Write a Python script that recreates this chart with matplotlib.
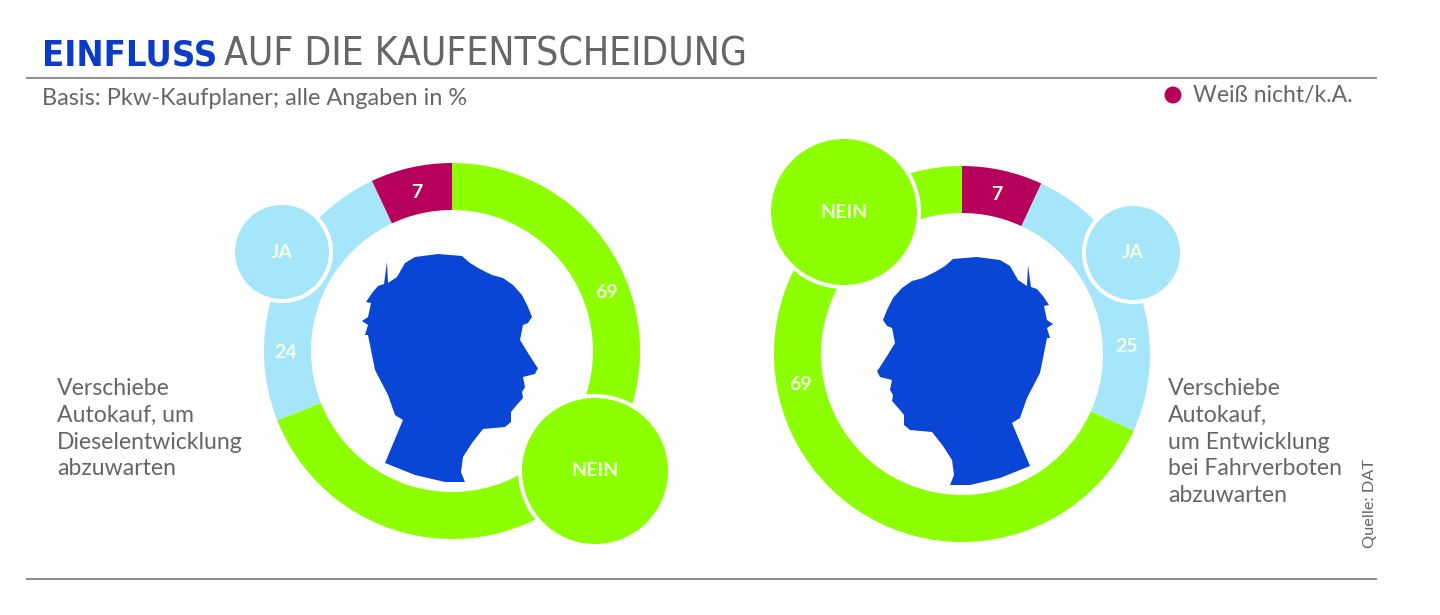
import matplotlib
matplotlib.use("Agg")
import matplotlib.pyplot as plt
from matplotlib.patches import Circle

W, H = 1440, 615

GREEN = "#8CFF00"
LIGHT_BLUE = "#A6E6FA"
MAROON = "#B7005C"
BLUE = "#0A46D6"
GREY = "#666666"

# answers, clockwise from twelve o'clock
left_labels = ["Nein", "Ja", "Weiß nicht/k.A."]
left_values = [69, 24, 7]
right_labels = ["Weiß nicht/k.A.", "Ja", "Nein"]
right_values = [7, 25, 69]

left_text = ["Verschiebe", "Autokauf, um", "Dieselentwicklung", "abzuwarten"]
right_text = ["Verschiebe", "Autokauf,", "um Entwicklung", "bei Fahrverboten", "abzuwarten"]

colors = {"Nein": GREEN, "Ja": LIGHT_BLUE, "Weiß nicht/k.A.": MAROON}

# head outline (pixels)
head_x = [375, 370, 368, 365, 368, 362, 368, 371, 366, 372, 378, 384, 387, 388, 397, 405,
          415, 438, 462, 470, 480, 492, 503, 513, 522, 528, 532, 528, 523, 520, 528, 537,
          538, 535, 523, 525, 522, 523, 515, 511, 511, 505, 483, 472, 463, 461, 465, 445,
          415, 385, 400, 403, 395, 388, 375]
head_y = [370, 345, 335, 335, 325, 321, 317, 303, 302, 293, 286, 284, 262, 283, 277, 263,
          257, 254, 256, 263, 269, 275, 278, 285, 295, 307, 317, 323, 325, 340, 353, 367,
          368, 374, 377, 387, 392, 398, 407, 412, 422, 427, 429, 443, 457, 472, 482, 482,
          475, 463, 427, 420, 415, 395, 370]


def fy(y):
    return H - y


def draw_ring(ax, values, labels, cx, cy):
    ax.pie(values, colors=[colors[l] for l in labels], startangle=90, counterclock=False,
           center=(cx, fy(cy)), radius=188,
           wedgeprops=dict(width=47, linewidth=0))


def bubble(ax, x, y, r, color, text, size):
    ax.add_patch(Circle((x, fy(y)), r + 4, fc="white", ec="none", zorder=3))
    ax.add_patch(Circle((x, fy(y)), r, fc=color, ec="none", zorder=4))
    ax.text(x, fy(y), text, color="#F0FFE0", fontsize=size, fontweight="bold",
            family="Lato", ha="center", va="center", zorder=5)


def value_label(ax, x, y, value):
    ax.text(x, fy(y), str(value), color="#F4FFE8", fontsize=14, fontweight="bold",
            family="Lato", ha="center", va="center", zorder=5)


fig = plt.figure(figsize=(W / 100, H / 100), dpi=100, facecolor="white")
ax = fig.add_axes([0, 0, 1, 1])

draw_ring(ax, left_values, left_labels, 452, 351)
draw_ring(ax, right_values, right_labels, 962, 354)

# heads, the right one is the left one mirrored
ax.fill(head_x, [fy(y) for y in head_y], color=BLUE, lw=0, zorder=2)
ax.fill([1415 - x for x in head_x], [fy(y + 3) for y in head_y], color=BLUE, lw=0, zorder=2)

bubble(ax, 282, 252, 47, LIGHT_BLUE, "JA", 14)
bubble(ax, 595, 471, 73, GREEN, "NEIN", 14)
bubble(ax, 844, 212, 73, GREEN, "NEIN", 14)
bubble(ax, 1133, 253, 47, LIGHT_BLUE, "JA", 14)

value_label(ax, 606, 293, left_values[0])
value_label(ax, 286, 353, left_values[1])
value_label(ax, 417, 193, left_values[2])
value_label(ax, 997, 194, right_values[0])
value_label(ax, 1127, 347, right_values[1])
value_label(ax, 800, 385, right_values[2])

# header
ax.text(42, fy(65), "EINFLUSS", color="#0A3CC8", fontsize=26, fontweight="bold",
        family="DejaVu Sans", stretch="condensed", ha="left", va="baseline")
ax.text(224, fy(65), "AUF DIE KAUFENTSCHEIDUNG", color=GREY, fontsize=28,
        family="DejaVu Sans", stretch="condensed", ha="left", va="baseline")
ax.plot([27, 1376], [fy(78), fy(78)], color="#8C8C8C", lw=1.4)
ax.plot([27, 1376], [fy(579), fy(579)], color="#8C8C8C", lw=1.4)
ax.text(42, fy(105), "Basis: Pkw-Kaufplaner; alle Angaben in %", color=GREY, fontsize=16.9,
        family="Lato", ha="left", va="baseline")

# legend
ax.add_patch(Circle((1173, fy(95)), 8.5, fc=MAROON, ec="none"))
ax.text(1193, fy(102), "Weiß nicht/k.A.", color=GREY, fontsize=16.6, family="Lato",
        ha="left", va="baseline")

for i, line in enumerate(left_text):
    ax.text(57, fy(395 + i * 26.8), line, color=GREY, fontsize=16.6, family="Lato",
            ha="left", va="baseline")
for i, line in enumerate(right_text):
    ax.text(1168, fy(395 + i * 26.8), line, color=GREY, fontsize=16.6, family="Lato",
            ha="left", va="baseline")

ax.text(1370, fy(504), "Quelle: DAT", color=GREY, fontsize=11.8, family="Lato",
        rotation=90, ha="center", va="center")

ax.set_xlim(0, W)
ax.set_ylim(0, H)
ax.set_aspect("equal")
ax.axis("off")

fig.savefig("out.png", dpi=100)
